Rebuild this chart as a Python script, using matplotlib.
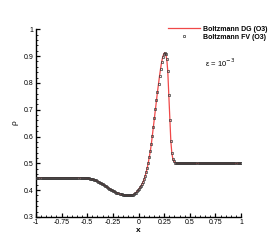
import numpy as np
import matplotlib

matplotlib.use("Agg")
import matplotlib.pyplot as plt
from matplotlib.ticker import MultipleLocator, FuncFormatter

# --- Data ---------------------------------------------------------------------
# FV cell centres (200 cells on [-1, 1])
x_cells = np.linspace(-0.995, 0.995, 200)

rho = [
    # -0.995 .. -0.505
    0.446, 0.446, 0.446, 0.446, 0.446, 0.446, 0.446, 0.446, 0.446, 0.446,
    0.446, 0.446, 0.446, 0.446, 0.446, 0.446, 0.446, 0.446, 0.446, 0.446,
    0.446, 0.446, 0.446, 0.446, 0.446, 0.446, 0.446, 0.446, 0.446, 0.446,
    0.446, 0.446, 0.446, 0.446, 0.446, 0.446, 0.446, 0.446, 0.446, 0.446,
    0.446, 0.446, 0.446, 0.446, 0.446, 0.446, 0.446, 0.445, 0.445, 0.445,
    # -0.495 .. -0.005
    0.444, 0.444, 0.443, 0.442, 0.441, 0.440, 0.439, 0.437, 0.436, 0.434,
    0.432, 0.430, 0.428, 0.426, 0.424, 0.421, 0.419, 0.416, 0.414, 0.411,
    0.409, 0.406, 0.404, 0.402, 0.399, 0.397, 0.395, 0.393, 0.391, 0.389,
    0.388, 0.386, 0.385, 0.384, 0.383, 0.382, 0.381, 0.381, 0.380, 0.380,
    0.380, 0.380, 0.381, 0.382, 0.383, 0.385, 0.388, 0.391, 0.395, 0.399,
    # 0.005 .. 0.495
    0.405, 0.410, 0.416, 0.423, 0.431, 0.441, 0.453, 0.467, 0.483, 0.501,
    0.522, 0.545, 0.572, 0.603, 0.636, 0.669, 0.702, 0.735, 0.767, 0.797,
    0.826, 0.853, 0.877, 0.895, 0.907, 0.913, 0.908, 0.890, 0.845, 0.755,
    0.660, 0.583, 0.537, 0.516, 0.507, 0.503, 0.501, 0.500, 0.500, 0.500,
    0.500, 0.500, 0.500, 0.500, 0.500, 0.500, 0.500, 0.500, 0.500, 0.500,
    # 0.505 .. 0.995
    0.500, 0.500, 0.500, 0.500, 0.500, 0.500, 0.500, 0.500, 0.500, 0.500,
    0.500, 0.500, 0.500, 0.500, 0.500, 0.500, 0.500, 0.500, 0.500, 0.500,
    0.500, 0.500, 0.500, 0.500, 0.500, 0.500, 0.500, 0.500, 0.500, 0.500,
    0.500, 0.500, 0.500, 0.500, 0.500, 0.500, 0.500, 0.500, 0.500, 0.500,
    0.500, 0.500, 0.500, 0.500, 0.500, 0.500, 0.500, 0.500, 0.500, 0.500,
]

x_ticks = [-1, -0.75, -0.5, -0.25, 0, 0.25, 0.5, 0.75, 1]
y_ticks = [0.3, 0.4, 0.5, 0.6, 0.7, 0.8, 0.9, 1.0]

plt.rcParams["font.family"] = ["Liberation Sans", "DejaVu Sans"]


def _fmt(v, _pos):
    s = f"{v:.2f}".rstrip("0").rstrip(".")
    return "0" if s in ("-0", "0") else s


fig = plt.figure(figsize=(2.74, 2.44), dpi=100)
ax = fig.add_axes([0.131, 0.111, 0.749, 0.769])

ax.plot(x_cells, rho, color="#f04848", lw=0.9, label="Boltzmann DG (O3)",
        zorder=2)
ax.plot(x_cells, rho, ls="none", marker="s", ms=1.8, mfc="none",
        mec="#3a3a3a", mew=0.5, label="Boltzmann FV (O3)", zorder=3)

ax.set_xlim(-1, 1)
ax.set_ylim(0.3, 1)
ax.set_xticks(x_ticks)
ax.set_yticks(y_ticks)
ax.xaxis.set_minor_locator(MultipleLocator(0.05))
ax.yaxis.set_minor_locator(MultipleLocator(0.02))
ax.xaxis.set_major_formatter(FuncFormatter(_fmt))
ax.yaxis.set_major_formatter(FuncFormatter(_fmt))

for side in ("top", "right"):
    ax.spines[side].set_visible(False)
for side in ("left", "bottom"):
    ax.spines[side].set_linewidth(1.0)

ax.tick_params(which="major", direction="in", length=3.0, width=0.9,
               labelsize=5, pad=1.5)
ax.tick_params(which="minor", direction="in", length=1.6, width=0.6)

ax.set_xlabel("x", fontsize=6, fontweight="bold", labelpad=0.5)
ax.set_ylabel("ρ", fontsize=6, labelpad=4)

ax.text(0.825, 0.82, "ε = 10$^{-3}$", transform=ax.transAxes,
        fontsize=5.5, ha="left", va="center")

fig.legend(loc="upper left", bbox_to_anchor=(0.613, 0.895), frameon=False,
           prop={"size": 5, "weight": "bold"}, handlelength=4.6,
           handletextpad=0.4, labelspacing=0.15, borderpad=0,
           borderaxespad=0)

fig.savefig("out.png", dpi=100)
